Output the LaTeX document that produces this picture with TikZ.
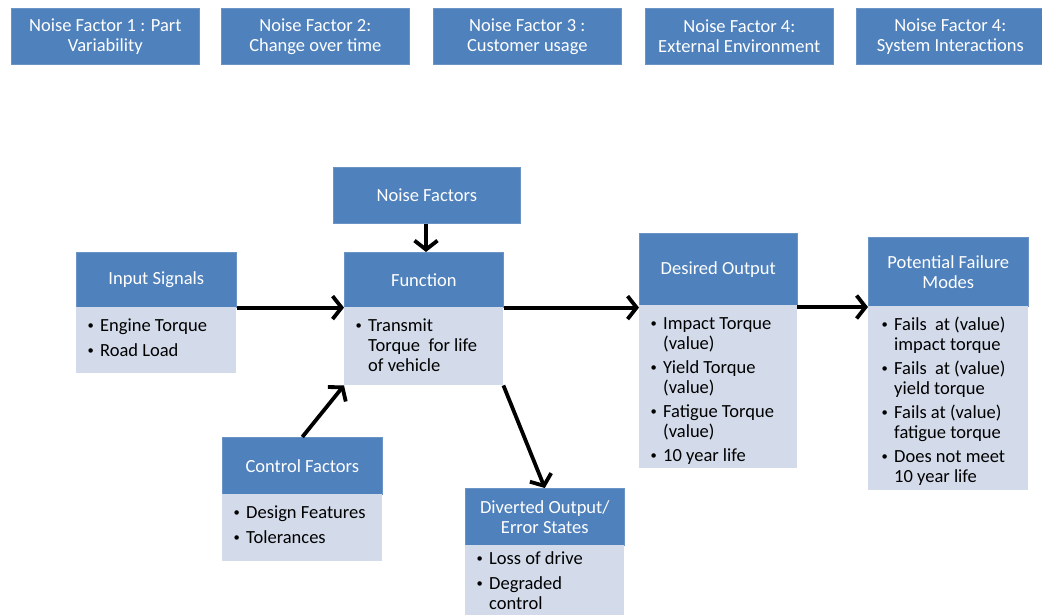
\documentclass[tikz,border=0pt]{standalone}
\usepackage{fontspec}
\usepackage{graphicx}
\setmainfont{Carlito}
\usetikzlibrary{arrows.meta}

\definecolor{hdrblue}{HTML}{4F81BD}
\definecolor{hdredge}{HTML}{6A93C6}
\definecolor{bodyblue}{HTML}{D3DBEA}

\newcommand\boxfont{\fontsize{18.5}{20}\selectfont}
% bullet list laid out as a two-column table: bullet | text
\newcommand\blist[1]{\begin{tabular}{@{}l@{}l@{}}#1\end{tabular}}
\newcommand\bl{\makebox[14pt][l]{\hspace{1.5pt}\raisebox{2.2pt}{\scalebox{0.68}{\textbullet}}}}

\tikzset{
  x=1pt, y=-1pt,
  hdr/.style={fill=hdrblue, draw=hdredge, line width=0.6pt, text=white,
    font=\boxfont, align=center, inner sep=0pt, anchor=north west},
  bodybox/.style={fill=bodyblue, draw=none, inner sep=0pt, anchor=north west},
  btext/.style={anchor=north west, xshift=10pt, yshift=-10.5pt, inner sep=0pt,
    font=\boxfont, align=left, text=black},
  arr/.style={line width=3.8pt, draw=black,
    -{Straight Barb[length=9pt,width=23pt,line width=3.8pt]}},
}

\begin{document}
\begin{tikzpicture}
\useasboundingbox (0,0) rectangle (1042,615);

% noise factor banner
\node[hdr, minimum width=188pt, minimum height=56pt] (nf1) at (11,8)  {Noise Factor 1 : Part\\Variability};
\node[hdr, minimum width=188pt, minimum height=56pt] (nf2) at (221,8) {Noise Factor 2:\\Change over time};
\node[hdr, minimum width=188pt, minimum height=56pt] (nf3) at (433,8) {Noise Factor 3 :\\Customer usage};
\node[hdr, minimum width=188pt, minimum height=56pt] (nf4) at (645,8) {Noise Factor 4:\\External Environment};
\node[hdr, minimum width=188pt, minimum height=56pt] (nf5) at (856,8) {Noise Factor 4:\\System Interactions};

% noise factors
\node[hdr, minimum width=187pt, minimum height=56pt] (nz) at (333,167) {Noise Factors};

% input signals
\node[hdr, minimum width=160pt, minimum height=55pt] (inH) at (76,252) {Input Signals};
\node[bodybox, minimum width=160pt, minimum height=66pt] (inB) at (76,307) {};
\node[btext] (inT) at (inB.north west) {\blist{\bl & Engine Torque\\[4.5pt] \bl & Road Load}};

% function
\node[hdr, minimum width=159pt, minimum height=55pt] (fH) at (344,252) {Function};
\node[bodybox, minimum width=159pt, minimum height=78pt] (fB) at (344,307) {};
\node[btext] (fT) at (fB.north west) {\blist{\bl & Transmit\\ & Torque\ \ for life\\ & of vehicle}};

% desired output
\node[hdr, minimum width=158pt, minimum height=72pt] (dH) at (639,233) {Desired Output};
\node[bodybox, minimum width=158pt, minimum height=163pt] (dB) at (639,305) {};
\node[btext] (dT) at (dB.north west) {\blist{\bl & Impact Torque\\ & (value)\\[4pt]
  \bl & Yield Torque\\ & (value)\\[4pt]
  \bl & Fatigue Torque\\ & (value)\\[4pt]
  \bl & 10 year life}};

% potential failure modes
\node[hdr, minimum width=160pt, minimum height=69pt] (pH) at (868,237) {Potential Failure\\Modes};
\node[bodybox, minimum width=160pt, minimum height=184pt] (pB) at (868,306) {};
\node[btext, xshift=2pt] (pT) at (pB.north west) {\blist{\bl & Fails\ \ at (value)\\ & impact torque\\[4pt]
  \bl & Fails\ \ at (value)\\ & yield torque\\[4pt]
  \bl & Fails at (value)\\ & fatigue torque\\[4pt]
  \bl & Does not meet\\ & 10 year life}};

% control factors
\node[hdr, minimum width=160pt, minimum height=57pt] (cH) at (222,437) {Control Factors};
\node[bodybox, minimum width=160pt, minimum height=67pt] (cB) at (222,494) {};
\node[btext] (cT) at (cB.north west) {\blist{\bl & Design Features\\[4.5pt] \bl & Tolerances}};

% diverted output
\node[hdr, minimum width=159pt, minimum height=57pt] (vH) at (465,488) {Diverted Output/\\Error States};
\node[bodybox, minimum width=159pt, minimum height=80pt] (vB) at (465,545) {};
\node[btext, yshift=5pt] (vT) at (vB.north west) {\blist{\bl & Loss of drive\\[4.5pt] \bl & Degraded\\ & control}};

% connectors
\draw[arr] (nz.south -| 426,0) -- (fH.north -| 426,0);
\draw[arr] (inH.south east) -- (fH.south west);
\draw[arr] (fH.south east) -- (fH.south east -| dH.west);
\draw[arr] (dB.north east) ++(0,2) coordinate (dOut) (dOut) -- (dOut -| pH.west);
\draw[arr] (cH.north) -- (fB.south west);
\draw[arr] (fB.south east) -- (vH.north);
\end{tikzpicture}
\end{document}
